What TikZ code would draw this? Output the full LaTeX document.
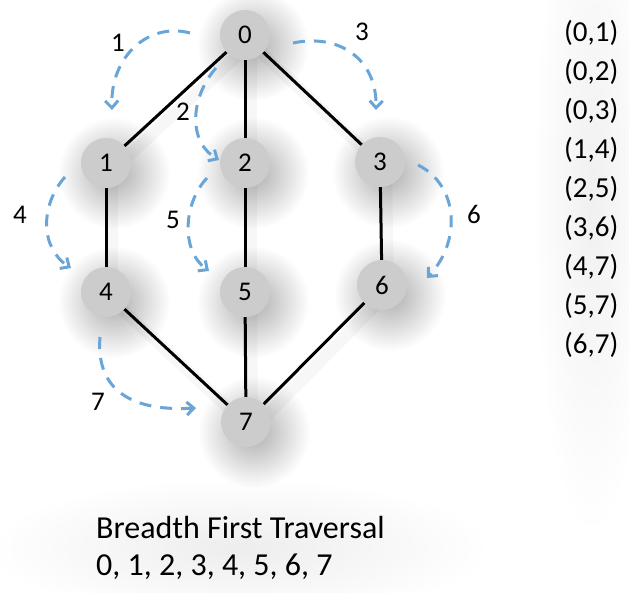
\documentclass[tikz,border=0pt]{standalone}
\usepackage{fontspec}
\setmainfont{Carlito}
\usetikzlibrary{arrows.meta,fadings}
\definecolor{arrowblue}{RGB}{105,165,215}
\definecolor{nodegray}{RGB}{204,204,204}
\tikzfading[name=softfade, inner color=transparent!0, outer color=transparent!100]
\begin{document}
\begin{tikzpicture}[x=1pt,y=-1pt,
  vtx/.style={circle, minimum size=50pt, inner sep=0pt, fill=nodegray,
    font=\fontsize{27}{30}\selectfont},
  vshadow/.style={fill=black, opacity=0.32, path fading=softfade},
  edge/.style={line width=3pt, black},
  edgeshadow/.style={line width=12pt, black, opacity=0.03, line cap=round,
    transform canvas={shift={(6pt,-8pt)}}},
  trav/.style={arrowblue, line width=3pt, dash pattern=on 12pt off 9pt,
    -{Straight Barb[length=7pt,width=13pt]}},
  lbl/.style={font=\fontsize{27}{30}\selectfont, inner sep=0pt},
  lst/.style={font=\fontsize{29}{32}\selectfont, anchor=west, inner sep=0pt},
  txt/.style={font=\fontsize{32}{36}\selectfont, anchor=west, inner sep=0pt},
]
\useasboundingbox (0,0) rectangle (629,592);
\fill[white] (0,0) rectangle (629,592);

% vertex centres
\coordinate (c0) at (245,35);
\coordinate (c1) at (106,163);
\coordinate (c2) at (245,163);
\coordinate (c3) at (380,162);
\coordinate (c4) at (106,292);
\coordinate (c5) at (245,292);
\coordinate (c6) at (382,285);
\coordinate (c7) at (246,422);

% soft shadows
\foreach \i in {0,...,7}
  \fill[vshadow] ([shift={(8,10)}]c\i) circle (56);
\foreach \a/\b in {c0/c1,c0/c2,c0/c3,c1/c4,c2/c5,c3/c6,c4/c7,c5/c7,c6/c7}
  \draw[edgeshadow] (\a) -- (\b);
\fill[black, opacity=0.07, path fading=softfade] (240,548) ellipse (250 and 70);
\fill[black, opacity=0.06, path fading=softfade] (592,195) ellipse (60 and 340);

% vertices
\foreach \i in {0,...,7}
  \node[vtx] (n\i) at (c\i) {\i};

% edges
\foreach \a/\b in {n0/n1,n0/n2,n0/n3,n1/n4,n2/n5,n3/n6,n4/n7,n5/n7,n6/n7}
  \draw[edge] (\a) -- (\b);

% traversal arrows
\coordinate (s1) at (190,33);  \coordinate (e1) at (112,110);
\coordinate (s2) at (216,68);  \coordinate (e2) at (219,160);
\coordinate (s3) at (293,43);  \coordinate (e3) at (376,110);
\coordinate (s4) at (65,177);  \coordinate (e4) at (71,268);
\coordinate (s5) at (207,178); \coordinate (e5) at (209,271);
\coordinate (s6) at (418,165); \coordinate (e6) at (427,278);
\coordinate (s7) at (100,337); \coordinate (e7) at (196,408);

\draw[trav] (s1) .. controls (150,22) and (110,55) .. (e1);
\draw[trav] (s2) .. controls (192,95) and (186,140) .. (e2);
\draw[trav] (s3) .. controls (340,33) and (377,60) .. (e3);
\draw[trav] (s4) .. controls (40,205) and (40,248) .. (e4);
\draw[trav] (s5) .. controls (184,202) and (180,250) .. (e5);
\draw[trav] (s6) .. controls (458,185) and (462,240) .. (e6);
\draw[trav] (s7) .. controls (96,385) and (125,412) .. (e7);

% step labels
\node[lbl] (l1) at (118,43) {1};
\node[lbl] (l2) at (183,112) {2};
\node[lbl] (l3) at (362,32) {3};
\node[lbl] (l4) at (20,215) {4};
\node[lbl] (l5) at (173,220) {5};
\node[lbl] (l6) at (474,214) {6};
\node[lbl] (l7) at (98,402) {7};

% edge list
\foreach \t [count=\i from 0] in {(0,1),(0,2),(0,3),(1,4),(2,5),(3,6),(4,7),(5,7),(6,7)}
  \node[lst] (e\i) at (564,{33+39*\i}) {\t};

% traversal text
\node[txt] (title) at (96,527) {Breadth First Traversal};
\node[txt] (seq) at (96,567) {0, 1, 2, 3, 4, 5, 6, 7};
\end{tikzpicture}
\end{document}
